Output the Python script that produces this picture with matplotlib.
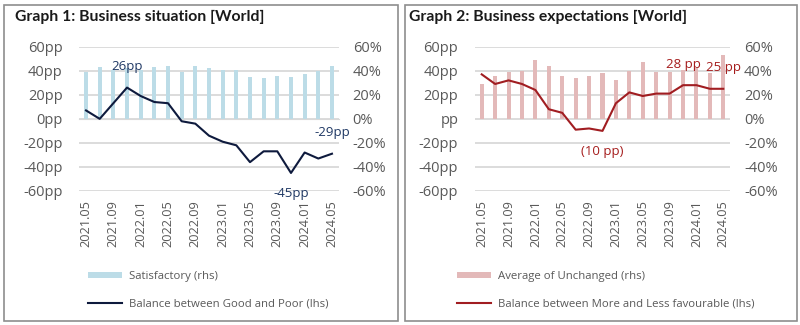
import numpy as np
import matplotlib.pyplot as plt
from matplotlib.patches import Rectangle, Patch
from matplotlib.lines import Line2D

# Survey months (bimonthly)
months = ["2021.05", "2021.07", "2021.09", "2021.11", "2022.01", "2022.03",
          "2022.05", "2022.07", "2022.09", "2022.11", "2023.01", "2023.03",
          "2023.05", "2023.07", "2023.09", "2023.11", "2024.01", "2024.03",
          "2024.05"]

# Graph 1: business situation
satisfactory = [39, 43, 41, 42, 41, 43, 44, 39, 44, 42, 41, 41,
                35, 34, 36, 35, 37, 40, 44]
good_poor = [7, 0, 13, 26, 19, 14, 13, -2, -4, -14, -19, -22,
             -36, -27, -27, -45, -28, -33, -29]

# Graph 2: business expectations
unchanged = [29, 36, 39, 40, 49, 44, 36, 34, 36, 38, 32, 40,
             47, 39, 39, 41, 42, 38, 53]
more_less = [37, 29, 32, 29, 24, 8, 5, -9, -8, -10, 13, 22,
             19, 21, 21, 28, 28, 25, 25]

yticks = [-60, -40, -20, 0, 20, 40, 60]

FONT = "Open Sans"
TICK_C = "#595959"
GRID_C = "#D9D9D9"

fig = plt.figure(figsize=(8, 3.25), dpi=100)


def px(x, y):
    return x / 800, 1 - y / 325


def panel(box, ax_rect, title, title_x, bars, line, bar_c, line_c,
          bar_name, line_name, zero_label, labels, label_c,
          zero_ticks, leg_xy, neg_paren):
    # panel frame
    x0, y0 = px(box[0], box[3])
    x1, y1 = px(box[2], box[1])
    fig.patches.append(Rectangle((x0, y0), x1 - x0, y1 - y0,
                                 transform=fig.transFigure, fill=False,
                                 edgecolor="#8E8E8E", lw=1.2))
    tx, ty = px(title_x, 17)
    fig.text(tx, ty, title, family="Lato", weight="bold", fontsize=11.3,
             va="center", ha="left", color="#1a1a1a")

    l, b = px(ax_rect[0], ax_rect[3])
    r, t = px(ax_rect[2], ax_rect[1])
    ax = fig.add_axes([l, b, r - l, t - b])
    ax2 = ax.twinx()
    ax.set_zorder(ax2.get_zorder() + 1)
    ax.patch.set_visible(False)

    x = np.arange(len(months))
    ax2.bar(x, bars, width=0.3, color=bar_c, zorder=2)
    ax2.set_ylim(-60, 60)
    ax2.set_yticks(yticks)
    ax2.set_yticklabels([f"{v}%" for v in yticks])
    ax2.yaxis.grid(True, color=GRID_C, lw=1.3, zorder=0)
    ax2.set_axisbelow(True)

    ax.plot(x, line, color=line_c, lw=1.5, zorder=3)
    ax.set_ylim(-60, 60)
    ax.set_xlim(-0.5, len(months) - 0.5)
    ax.set_yticks(yticks)
    ax.set_yticklabels([(f"{v}pp" if v != 0 else zero_label) for v in yticks])

    for a in (ax, ax2):
        for s in a.spines.values():
            s.set_visible(False)
        a.tick_params(axis="y", length=0, labelsize=10.5, labelcolor=TICK_C)
        for lab in a.get_yticklabels():
            lab.set_family(FONT)
    ax.tick_params(axis="y", pad=12)
    ax2.tick_params(axis="y", pad=10)

    # category axis crossing at zero
    if zero_ticks:
        ax.spines["bottom"].set_visible(True)
        ax.spines["bottom"].set_position(("data", 0))
        ax.spines["bottom"].set_color(GRID_C)
        ax.set_xticks(np.arange(-0.5, len(months), 1.0))
        ax.tick_params(axis="x", length=4, color=GRID_C, labelbottom=False)
    else:
        ax.set_xticks([])
    ax2.set_xticks([])

    sec = ax.secondary_xaxis("bottom")
    sec.spines["bottom"].set_visible(False)
    sec.set_xticks(x[::2])
    sec.set_xticklabels(months[::2], rotation=90, family=FONT,
                        fontsize=9.2, color=TICK_C)
    sec.tick_params(axis="x", length=0, pad=6.5)

    # value labels
    for i, pos in labels:
        v = line[i]
        txt = f"({abs(v)} pp)" if (neg_paren and v < 0) else (
            f"{v} pp" if neg_paren else f"{v}pp")
        off = 15 if pos == "above" else -15
        ax.annotate(txt, (x[i], v), xytext=(0, off), textcoords="offset points",
                    ha="center", va="center", color=label_c, fontsize=9.5,
                    family=FONT, zorder=5)

    handles = [Patch(facecolor=bar_c, edgecolor="none"),
               Line2D([0], [0], color=line_c, lw=1.5)]
    lx, ly = px(*leg_xy)
    fig.legend(handles, [bar_name, line_name], loc="upper left",
               bbox_to_anchor=(lx, ly), frameon=False, handlelength=3.0,
               handleheight=0.55, handletextpad=0.6, labelspacing=1.45,
               borderaxespad=0, borderpad=0,
               prop={"family": FONT, "size": 8.2}, labelcolor=TICK_C)
    return ax


panel((4, 5, 398, 321), (79.2, 46.7, 338.8, 191.0),
      "Graph 1: Business situation [World]", 15,
      satisfactory, good_poor, "#BCDCE7", "#0E1A3D",
      "Satisfactory (rhs)", "Balance between Good and Poor (lhs)", "0pp",
      [(3, "above"), (15, "below"), (18, "above")], "#1F3864",
      True, (88, 271), False)

panel((405, 5, 797, 321), (475.0, 46.7, 730.0, 191.0),
      "Graph 2: Business expectations [World]", 409,
      unchanged, more_less, "#E3B9B9", "#A11D21",
      "Average of Unchanged (rhs)",
      "Balance between More and Less favourable (lhs)", "pp",
      [(9, "below"), (15, "above"), (18, "above")], "#A51C1C",
      False, (457, 271), True)

fig.savefig("out.png", dpi=100)
